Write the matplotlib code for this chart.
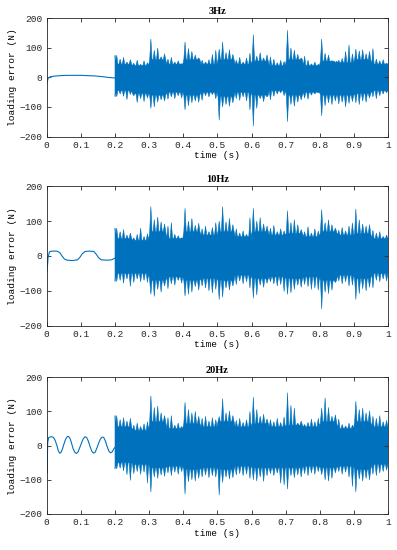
import numpy as np
import matplotlib
matplotlib.use("Agg")
import matplotlib.pyplot as plt

BLUE = '#0072BD'
TITLES = ['3Hz', '10Hz', '20Hz']

# start-up part of each signal (0 - 0.2 s)
t_3hz = [0, 0.001, 0.004, 0.01, 0.02, 0.04, 0.06, 0.08, 0.1, 0.12, 0.14, 0.16, 0.18, 0.2]
v_3hz = [0, -20, -3, 2, 4, 6, 7, 7, 7, 6, 5, 3, 0, -2]

t_10hz = [0, 0.001, 0.004, 0.008, 0.015, 0.03, 0.038, 0.045, 0.052, 0.06, 0.075, 0.09,
          0.097, 0.104, 0.112, 0.125, 0.138, 0.145, 0.152, 0.16, 0.175, 0.19, 0.2]
v_10hz = [0, -45, -5, 12, 14, 14, 10, 0, -9, -12, -13, -11,
          -4, 6, 13, 14, 13, 5, -5, -11, -12, -11, -6]

t_20hz = [0, 0.001, 0.003, 0.006, 0.01, 0.015, 0.02, 0.025, 0.03, 0.034, 0.038, 0.042,
          0.046, 0.05, 0.055, 0.06, 0.064, 0.068, 0.072, 0.077, 0.082, 0.087, 0.092,
          0.097, 0.102, 0.107, 0.112, 0.117, 0.122, 0.127, 0.132, 0.137, 0.142, 0.147,
          0.152, 0.157, 0.162, 0.167, 0.172, 0.177, 0.182, 0.187, 0.192, 0.196, 0.2]
v_20hz = [0, -80, 10, 24, 25, 26, 24, 15, 0, -15, -22, -20,
          -10, 3, 18, 26, 27, 22, 10, -8, -19, -23, -18,
          -5, 8, 20, 26, 24, 13, -3, -16, -22, -19, -7,
          7, 19, 25, 24, 13, -3, -16, -21, -18, -10, -5]

# noisy part (0.2 - 1 s): max / min of the trace in each 0.01 s slot
hi_3hz = [75, 62, 68, 52, 60, 48, 58, 44, 56, 50,
          130, 92, 100, 70, 80, 62, 68, 52, 56, 46,
          120, 98, 88, 76, 66, 58, 52, 60, 78, 92,
          96, 120, 84, 94, 78, 58, 68, 52, 66, 82,
          145, 72, 84, 66, 76, 70, 62, 50, 58, 54,
          160, 100, 92, 78, 66, 72, 58, 46, 52, 44,
          130, 82, 76, 56, 50, 58, 64, 88, 110, 80,
          96, 90, 94, 80, 88, 98, 62, 56, 60, 48]
lo_3hz = [-65, -56, -64, -75, -58, -62, -85, -72, -82, -70,
          -105, -100, -84, -76, -80, -74, -66, -72, -62, -70,
          -110, -96, -86, -80, -84, -78, -62, -66, -58, -72,
          -145, -100, -92, -98, -86, -72, -78, -66, -80, -110,
          -165, -105, -72, -82, -66, -76, -64, -56, -52, -62,
          -150, -92, -98, -84, -76, -70, -74, -60, -56, -52,
          -130, -96, -86, -92, -80, -90, -84, -100, -88, -82,
          -86, -92, -80, -84, -70, -66, -72, -62, -56, -52]

hi_10hz = [80, 70, 76, 60, 66, 52, 62, 80, 56, 64,
           142, 104, 112, 98, 92, 86, 96, 62, 58, 52,
           137, 100, 108, 88, 94, 78, 86, 70, 82, 96,
           100, 142, 98, 108, 90, 78, 66, 72, 62, 110,
           137, 100, 110, 92, 86, 80, 88, 70, 78, 72,
           130, 96, 104, 90, 76, 70, 84, 66, 78, 72,
           133, 96, 104, 90, 80, 74, 82, 72, 86, 95,
           135, 104, 92, 86, 90, 74, 66, 70, 56, 60]
lo_10hz = [-73, -70, -78, -66, -87, -76, -66, -74, -70, -76,
           -110, -116, -96, -104, -86, -94, -80, -84, -70, -78,
           -115, -110, -104, -88, -98, -86, -92, -100, -106, -96,
           -125, -118, -92, -98, -86, -82, -72, -80, -74, -92,
           -121, -112, -84, -90, -78, -74, -80, -86, -82, -102,
           -110, -106, -96, -84, -90, -82, -88, -96, -92, -98,
           -152, -104, -108, -98, -76, -72, -80, -74, -86, -84,
           -125, -108, -94, -100, -90, -92, -70, -74, -66, -72]

hi_20hz = [88, 76, 82, 72, 80, 60, 66, 56, 64, 70,
           146, 112, 116, 96, 88, 82, 88, 60, 66, 56,
           127, 106, 96, 100, 86, 80, 86, 72, 82, 76,
           85, 138, 96, 102, 88, 74, 80, 68, 76, 100,
           142, 106, 86, 92, 78, 76, 70, 80, 68, 84,
           155, 118, 110, 66, 72, 62, 68, 78, 70, 80,
           110, 140, 112, 86, 90, 78, 62, 58, 66, 60,
           130, 106, 110, 96, 102, 86, 80, 88, 70, 74]
lo_20hz = [-68, -66, -74, -85, -102, -82, -76, -84, -78, -110,
           -136, -92, -96, -86, -90, -80, -88, -78, -84, -76,
           -142, -106, -100, -104, -96, -92, -86, -94, -88, -92,
           -145, -108, -92, -98, -94, -86, -82, -88, -84, -96,
           -100, -104, -92, -105, -88, -82, -88, -80, -110, -115,
           -127, -88, -94, -86, -92, -82, -88, -80, -84, -76,
           -85, -100, -104, -96, -80, -76, -84, -78, -92, -120,
           -136, -98, -104, -96, -100, -84, -88, -80, -76, -72]

# edge of the solid dense band, one value per 0.05 s
core_hi_3hz = [45, 40, 60, 45, 60, 45, 60, 45, 55, 40, 60, 40, 55, 50, 60, 45]
core_lo_3hz = [-45, -55, -60, -50, -60, -50, -65, -50, -60, -45, -60, -50, -60, -60, -55, -45]
core_hi_10hz = [50, 45, 70, 50, 70, 60, 70, 55, 70, 60, 65, 55, 70, 60, 65, 50]
core_lo_10hz = [-50, -50, -70, -60, -70, -65, -70, -55, -65, -60, -65, -60, -70, -55, -65, -50]
core_hi_20hz = [55, 45, 70, 50, 65, 55, 70, 55, 65, 55, 60, 55, 70, 50, 70, 55]
core_lo_20hz = [-50, -55, -65, -60, -70, -65, -70, -60, -65, -65, -65, -60, -65, -60, -70, -55]

panels = [(t_3hz, v_3hz, hi_3hz, lo_3hz, core_hi_3hz, core_lo_3hz),
          (t_10hz, v_10hz, hi_10hz, lo_10hz, core_hi_10hz, core_lo_10hz),
          (t_20hz, v_20hz, hi_20hz, lo_20hz, core_hi_20hz, core_lo_20hz)]

# axes boxes in figure fractions (left, bottom, width, height)
boxes = [(0.1176, 0.7518, 0.8605, 0.2149),
         (0.1176, 0.4078, 0.8605, 0.2535),
         (0.1176, 0.0655, 0.8605, 0.2485)]

mono = 'Liberation Mono'
fig = plt.figure(figsize=(3.97, 5.5), dpi=100)


def spiky_edge(hi, core):
    # every slot: core -> peak -> core, a thin spike on top of the dense band
    xs, ys = [], []
    for i, h in enumerate(hi):
        s = 0.2 + 0.01 * i
        c = core[i // 5]
        xs += [s + 0.0015, s + 0.005, s + 0.0085]
        ys += [c, h, c]
    return xs, ys


for (ts, vs, hi, lo, chi, clo), box, title in zip(panels, boxes, TITLES):
    ax = fig.add_axes(box)
    ax.plot(ts, vs, color=BLUE, lw=0.8)

    ux, uy = spiky_edge(hi, chi)
    lx, ly = spiky_edge(lo, clo)
    px = [0.2] + ux + [1.0, 1.0] + lx[::-1] + [0.2]
    py = [hi[0]] + uy + [chi[-1], clo[-1]] + ly[::-1] + [lo[0]]
    ax.fill(px, py, color=BLUE, lw=0.4, ec=BLUE)

    ax.set_xlim(0, 1)
    ax.set_ylim(-200, 200)
    ax.set_xticks(np.arange(0, 1.01, 0.1))
    ax.set_xticklabels(['0', '0.1', '0.2', '0.3', '0.4', '0.5', '0.6', '0.7', '0.8', '0.9', '1'])
    ax.set_yticks([-200, -100, 0, 100, 200])
    ax.tick_params(direction='in', top=True, right=True, length=3, width=0.6,
                   colors='#262626', labelsize=6.8, pad=3)
    for lab in ax.get_xticklabels() + ax.get_yticklabels():
        lab.set_family(mono)
    for sp in ax.spines.values():
        sp.set_linewidth(0.6)
        sp.set_color('#262626')
    ax.set_xlabel('time (s)', family=mono, fontsize=6.8, labelpad=1)
    ax.set_ylabel('loading error (N)', family=mono, fontsize=6.8, labelpad=2)
    ax.set_title(title, family='Liberation Serif', fontweight='bold', fontsize=7.5, pad=3)

fig.savefig('out.png', dpi=100)
